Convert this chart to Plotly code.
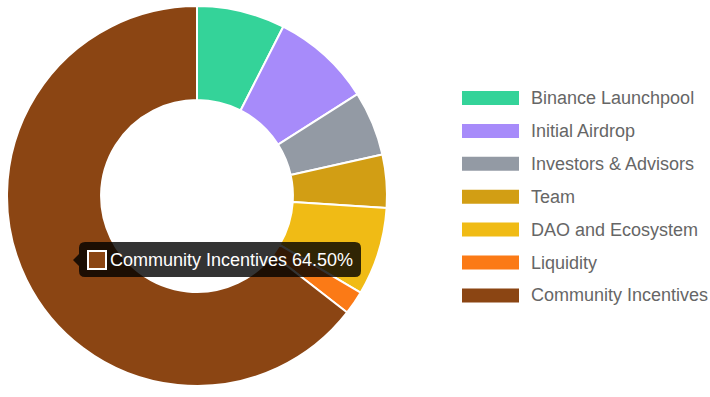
import plotly.graph_objects as go

labels = ["Binance Launchpool", "Initial Airdrop", "Investors & Advisors", "Team",
          "DAO and Ecosystem", "Liquidity", "Community Incentives"]
values = [7.5, 8.5, 5.5, 4.5, 7.5, 2.0, 64.5]
colors = ["#34d399", "#a78bfa", "#939aa4", "#d29e14", "#f0bb15", "#fb7a16", "#8b4513"]

tooltip_index = 6

W, H = 710, 397

def px(x):
    return x / W

def py(y):
    return 1 - y / H

fig = go.Figure()
fig.add_trace(go.Pie(
    labels=labels, values=values, sort=False, direction="clockwise", rotation=0,
    hole=0.505, textinfo="none", hoverinfo="label+percent",
    marker=dict(colors=colors, line=dict(color="white", width=2)),
    domain=dict(x=[px(7), px(387)], y=[py(386), py(6)]),
    showlegend=False,
))

shapes = []
annotations = []

# custom legend built from labels/colors
for i, (lab, col) in enumerate(zip(labels, colors)):
    cy = 98 + i * 32.9
    shapes.append(dict(type="rect", xref="paper", yref="paper",
                       x0=px(462), x1=px(519), y0=py(cy - 7), y1=py(cy + 7),
                       fillcolor=col, line=dict(width=0)))
    annotations.append(dict(xref="paper", yref="paper", x=px(529), y=py(cy),
                            xanchor="left", yanchor="middle", text=lab, showarrow=False,
                            font=dict(family="Liberation Sans, Arial", size=18, color="#666666")))

# tooltip replica
x0, x1, y0, y1, r = 79, 361, 242, 277, 6
path = (f"M{px(x0 + r)},{py(y0)} L{px(x1 - r)},{py(y0)} "
        f"Q{px(x1)},{py(y0)} {px(x1)},{py(y0 + r)} L{px(x1)},{py(y1 - r)} "
        f"Q{px(x1)},{py(y1)} {px(x1 - r)},{py(y1)} L{px(x0 + r)},{py(y1)} "
        f"Q{px(x0)},{py(y1)} {px(x0)},{py(y1 - r)} L{px(x0)},{py(266)} "
        f"L{px(73)},{py(260)} L{px(x0)},{py(254)} L{px(x0)},{py(y0 + r)} "
        f"Q{px(x0)},{py(y0)} {px(x0 + r)},{py(y0)} Z")
shapes.append(dict(type="path", xref="paper", yref="paper", path=path,
                   fillcolor="rgba(0,0,0,0.8)", line=dict(width=0), layer="above"))
shapes.append(dict(type="rect", xref="paper", yref="paper",
                   x0=px(88), x1=px(106), y0=py(269), y1=py(251),
                   fillcolor=colors[tooltip_index], line=dict(color="white", width=2),
                   layer="above"))
pct = values[tooltip_index] / sum(values) * 100
annotations.append(dict(xref="paper", yref="paper", x=px(108), y=py(260),
                        xanchor="left", yanchor="middle",
                        text=f"{labels[tooltip_index]} {pct:.2f}%", showarrow=False,
                        font=dict(family="Liberation Sans, Arial", size=18, color="white")))

fig.update_layout(
    width=W, height=H, margin=dict(l=0, r=0, t=0, b=0),
    paper_bgcolor="white", plot_bgcolor="white",
    shapes=shapes, annotations=annotations, showlegend=False,
)

fig.write_html("out.html", config={"displayModeBar": False},
               post_script="document.body.style.margin='0';document.body.style.padding='0';")
